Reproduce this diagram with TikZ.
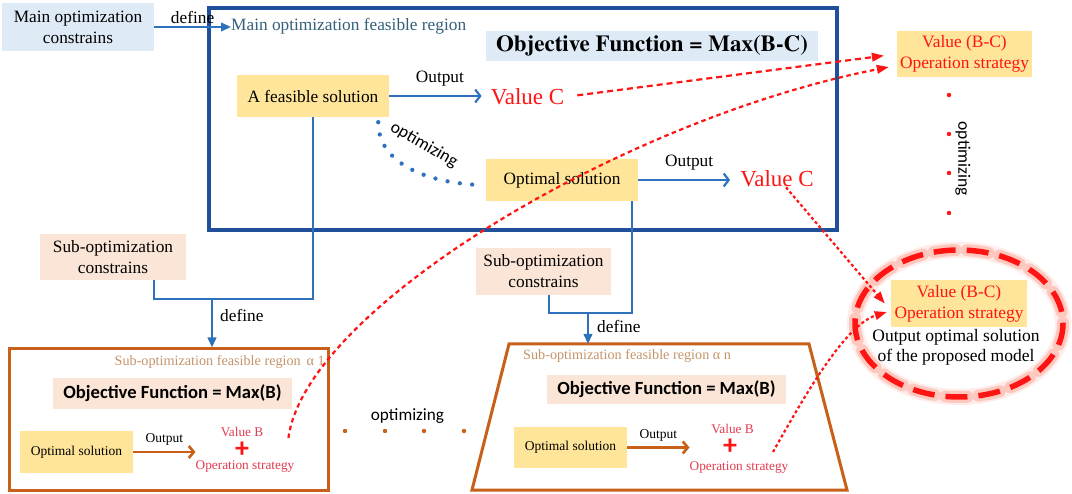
\documentclass[tikz,border=0pt]{standalone}
\usepackage{fontspec}
\setmainfont{Liberation Serif}
\newfontfamily\serifbold{texgyretermes-bold}[Extension=.otf]
\newfontfamily\calfont{Carlito}[BoldFont={Carlito Bold}]
\usetikzlibrary{arrows.meta}
\definecolor{frameblue}{HTML}{21509A}
\definecolor{lineblue}{HTML}{2E72BE}
\definecolor{lightblue}{HTML}{DEEBF7}
\definecolor{boxyellow}{HTML}{FFE599}
\definecolor{peach}{HTML}{FBE5D6}
\definecolor{orframe}{HTML}{C8601A}
\definecolor{regtext}{HTML}{34607A}
\definecolor{subtext}{HTML}{C4946A}
\definecolor{redtxt}{HTML}{FF1414}
\definecolor{crimson}{HTML}{E23C50}
\definecolor{glowc}{HTML}{FF9C8C}
\begin{document}
\begin{tikzpicture}[x=1pt,y=-1pt,
  box/.style={inner sep=0pt, align=center, text=black},
  tseventeen/.style={font=\fontsize{17.3}{21}\selectfont},
  tsmall/.style={font=\fontsize{13.5}{16}\selectfont},
  blline/.style={draw=lineblue, line width=2.2pt},
  defarrow/.style={blline, -{Triangle[length=10pt,width=8.5pt]}},
  outblue/.style={blline, -{Straight Barb[length=5pt,width=13pt]}},
  outorange/.style={draw=orframe, line width=2.6pt, -{Straight Barb[length=5pt,width=12pt]}},
  reddash/.style={draw=redtxt, line width=2.2pt, dash pattern=on 6pt off 4pt, -{Triangle[length=12pt,width=8.5pt]}},
  reddot/.style={draw=redtxt, line width=2.2pt, dash pattern=on 3pt off 2.6pt, -{Triangle[length=12pt,width=8.5pt]}},
  valc/.style={inner sep=0pt, text=redtxt, font=\fontsize{23}{27}\selectfont},
  redsmall/.style={inner sep=0pt, text=crimson, font=\fontsize{13.3}{16}\selectfont},
  optlabel/.style={inner sep=0pt, font=\calfont\fontsize{17.5}{20}\selectfont},
  plussign/.style={inner sep=0pt, text=redtxt, font=\calfont\bfseries\fontsize{28}{28}\selectfont}
]
\useasboundingbox (0,0) rectangle (1072,494);
\fill[white] (0,0) rectangle (1072,494);

% ---------- main region ----------
\node (mreg) [draw=frameblue, line width=3.8pt, minimum width=628pt, minimum height=222pt, inner sep=0pt] at (523,119) {};
\node (mc) [box, tseventeen, fill=lightblue, minimum width=152pt, minimum height=48pt] at (78,27) {Main optimization\\constrains};
\node (mtitle) [inner sep=0pt, anchor=west, text=regtext, tseventeen] at (231,26) {Main optimization feasible region};
\node (objtop) [box, fill=lightblue, minimum width=332pt, minimum height=30pt, font=\serifbold\fontsize{23}{26}\selectfont] at (652,46) {Objective Function = Max(B-C)};
\node (fs) [box, tseventeen, fill=boxyellow, minimum width=152pt, minimum height=42pt] at (313,96) {A feasible solution};
\node (vc1) [valc] at (527.5,97) {Value C};
\node (os) [box, tseventeen, fill=boxyellow, minimum width=152pt, minimum height=42pt] at (562,180) {Optimal solution};
\node (vc2) [valc] at (777,179) {Value C};

\node (vbc1) [box, fill=boxyellow, text=redtxt, minimum width=135pt, minimum height=46pt, font=\fontsize{17.4}{21.5}\selectfont] at (964.5,54) {Value (B-C)\\Operation strategy};

\draw[defarrow] (mc.east) -- (mc.east -| mtitle.west) node (def0) [midway, above=2pt, inner sep=0pt, tseventeen, text=black] {define};
\draw[outblue, shorten >=9pt] (fs.east) -- (fs.east -| vc1.west) node (out1) [midway, above=9pt, inner sep=0pt, tseventeen] {Output};
\draw[outblue, shorten >=10pt] (os.east) -- (os.east -| vc2.west) node (out2) [midway, above=9pt, inner sep=0pt, tseventeen] {Output};

\draw[draw=lineblue, line width=4.3pt, line cap=round, dash pattern=on 0pt off 12.4pt]
  ([xshift=-11pt,yshift=-5pt]fs.south east) .. controls (378,160) and (420,182) .. ([xshift=-7pt,yshift=-5pt]os.west);
\node (optc) [optlabel, rotate=-30] at (424,145) {optimizing};

% right column dots
\foreach \yy in {95,134,173,213} \fill[redtxt] (949,\yy) circle (2.2pt);
\node (optr) [optlabel, rotate=-90] at (963,159) {optimizing};

% ---------- result ellipse ----------
\draw[glowc, opacity=0.18, line width=16pt] (959,323.5) ellipse [x radius=104, y radius=73.5];
\draw[glowc, opacity=0.45, line width=12pt, line cap=round, dash pattern=on 22pt off 11pt] (959,323.5) ellipse [x radius=104, y radius=73.5];
\draw[redtxt, line width=5.5pt, dash pattern=on 22pt off 11pt] (959,323.5) ellipse [x radius=104, y radius=73.5];
\node (vbc2) [box, fill=boxyellow, text=redtxt, minimum width=136pt, minimum height=47pt, font=\fontsize{17.4}{21}\selectfont] at (959,303.5) {Value (B-C)\\Operation strategy};
\node (outopt) [box, font=\fontsize{17.5}{20}\selectfont] at (956,347) {Output optimal solution\\of the proposed model};

% ---------- sub region 1 ----------
\node (sc1) [box, tseventeen, fill=peach, minimum width=146pt, minimum height=46pt] at (113,257) {Sub-optimization\\constrains};
\node (sf1) [draw=orframe, line width=3pt, minimum width=319pt, minimum height=141pt, inner sep=0pt] at (168.5,419.5) {};
\node (st1) [inner sep=0pt, anchor=east, text=subtext, font=\fontsize{14.2}{16}\selectfont] at (325,362) {Sub-optimization feasible region \,α 1};
\node (obj1) [box, fill=peach, minimum width=239pt, minimum height=31pt, font=\calfont\bfseries\fontsize{18.6}{22}\selectfont] at (172.5,393.5) {Objective Function = Max(B)};
\node (os1) [box, tsmall, fill=boxyellow, minimum width=113pt, minimum height=42pt] at (76.5,452) {Optimal solution};
\node (vb1) [redsmall] at (242,432) {Value B};
\node (pl1) [plussign] at (242,450) {+};
\node (op1) [redsmall] at (245,467) {Operation strategy};
\draw[outorange] (os1.east) -- (os1.east -| op1.west) node (out3) [midway, above=5pt, inner sep=0pt, tsmall] {Output};

\coordinate (sc1j) at (154,299);
\coordinate (j1) at (212,299);
\draw[blline] (fs.south) |- (sc1j) -- (sc1j |- sc1.south);
\draw[defarrow] (j1) -- (j1 |- sf1.north);
\node (def1) [inner sep=0pt, anchor=west, tseventeen] at (220,315) {define};

% ---------- between sub regions ----------
\foreach \xx in {345,385,424,464} \fill[orframe] (\xx,431) circle (2.2pt);
\node (optm) [optlabel, font=\calfont\fontsize{17.2}{20}\selectfont] at (407.5,416) {optimizing};

% ---------- sub region n ----------
\node (sc2) [box, tseventeen, fill=peach, minimum width=135pt, minimum height=47pt] at (543.5,271.5) {Sub-optimization\\constrains};
\draw[orframe, line width=3pt, line join=miter] (509,344) -- (809,344) -- (847,490) -- (472,490) -- cycle;
\coordinate (t2top) at (588,344);
\node (st2) [inner sep=0pt, anchor=west, text=subtext, font=\fontsize{14.2}{16}\selectfont] at (523,356) {Sub-optimization feasible region α n};
\node (obj2) [box, fill=peach, minimum width=239pt, minimum height=29pt, font=\calfont\bfseries\fontsize{18.6}{22}\selectfont] at (666.5,389.5) {Objective Function = Max(B)};
\node (os2) [box, tsmall, fill=boxyellow, minimum width=113pt, minimum height=41pt] at (570.5,447.5) {Optimal solution};
\node (vb2) [redsmall] at (732.5,429) {Value B};
\node (pl2) [plussign] at (730,447) {+};
\node (op2) [redsmall] at (739,468) {Operation strategy};
\draw[outorange] (os2.east) -- (os2.east -| op2.west) node (out4) [midway, above=5pt, inner sep=0pt, tsmall] {Output};

\coordinate (sc2j) at (549,313);
\coordinate (j2) at (588,313);
\draw[blline] ([xshift=-6pt]os.south east) |- (sc2j) -- (sc2j |- sc2.south);
\draw[defarrow] (j2) -- (t2top);
\node (def2) [inner sep=0pt, anchor=west, tseventeen] at (597,326) {define};

% ---------- red connectors ----------
\draw[reddash, shorten <=13pt, shorten >=13pt] (vc1.east) -- (vbc1.west);
\draw[draw=redtxt, line width=2.2pt, dash pattern=on 4.5pt off 3.5pt, -{Triangle[length=12pt,width=8.5pt]}]
  ([xshift=25pt,yshift=-6pt]vb1.east) .. controls (305,310) and (620,120) .. ([xshift=-8pt,yshift=-13pt]vbc1.west);
\draw[reddot] ([xshift=9pt]vc2.south) -- ([xshift=-6pt]vbc2.west);
\draw[reddot] ([xshift=34pt,yshift=10pt]op2.north) .. controls (805,395) and (845,325) .. ([xshift=-4pt,yshift=-8.5pt]vbc2.west);
\end{tikzpicture}
\end{document}
